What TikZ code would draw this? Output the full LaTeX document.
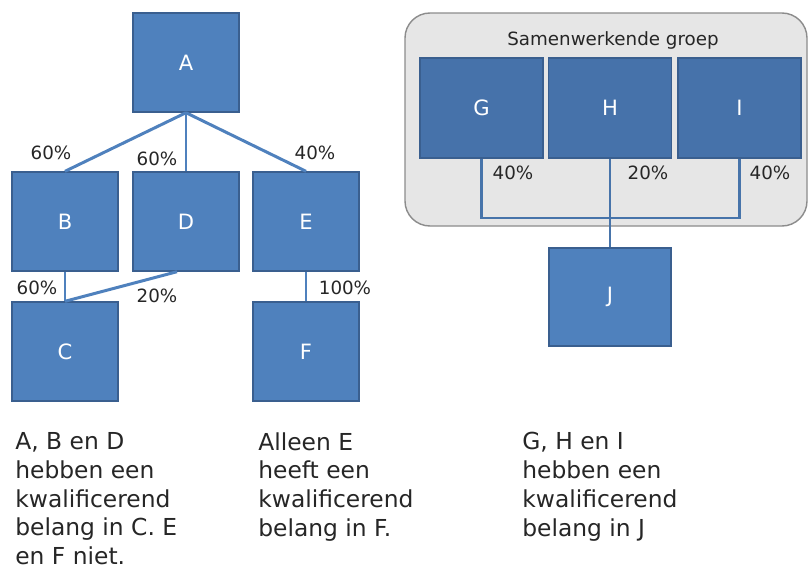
\documentclass[tikz,border=0pt]{standalone}
\usepackage{fontspec}
\setmainfont{DejaVu Sans}
\usepackage{xcolor}
\usepackage{tikz}
\definecolor{boxblue}{HTML}{4F81BD}
\definecolor{boxdark}{HTML}{4672AA}
\definecolor{boxline}{HTML}{3A5F8F}
\definecolor{groupfill}{HTML}{E6E6E6}
\definecolor{groupline}{HTML}{8C8C8C}
\definecolor{txt}{HTML}{262626}
\newcommand{\boxfont}{\fontsize{12}{14}\selectfont}
\newcommand{\pctfont}{\fontsize{10.4}{12}\selectfont}
\newcommand{\notefont}{\fontsize{13.3}{16.4}\selectfont}

\tikzset{
  ent/.style={draw=boxline, fill=boxblue, minimum width=2.12cm, minimum height=1.98cm,
    text=white, font=\boxfont, inner sep=0pt, line width=0.8pt},
  entgrp/.style={ent, fill=boxdark, minimum width=2.46cm, minimum height=2cm},
  link/.style={draw=boxblue, line width=1.7pt},
  linkgrp/.style={draw=boxblue!90!black, line width=1.3pt},
  pct/.style={text=txt, font=\pctfont, inner sep=0pt},
  note/.style={text=txt, font=\notefont, align=left, anchor=north west, inner sep=0pt}
}

\begin{document}
\begin{tikzpicture}
\fill[white] (0,0) rectangle (16.16,-11.4);
\useasboundingbox (0,0) rectangle (16.16,-11.4);

%% left tree
\node[ent] (A) at (3.72,-1.25) {A};
\node[ent] (B) at (1.30,-4.43) {B};
\node[ent] (D) at (3.72,-4.43) {D};
\node[ent] (E) at (6.12,-4.43) {E};
\node[ent] (C) at (1.30,-7.03) {C};
\node[ent] (F) at (6.12,-7.03) {F};
%%
\draw[link] (A.south) -- (B.north);
\draw[link] (A.south) -- (D.north);
\draw[link] (A.south) -- (E.north);
\draw[link] (B.south) -- (C.north);
\draw[link] ([xshift=-0.18cm]D.south) -- (C.north);
\draw[link] (E.south) -- (F.north);
%%
\node[pct] (pAB) at (1.02,-3.06) {60\%};
\node[pct] (pAD) at (3.14,-3.18) {60\%};
\node[pct] (pAE) at (6.30,-3.06) {40\%};
\node[pct] (pBC) at (0.74,-5.76) {60\%};
\node[pct] (pDC) at (3.14,-5.92) {20\%};
\node[pct] (pEF) at (6.90,-5.76) {100\%};

%% samenwerkende groep
\draw[fill=groupfill, draw=groupline, line width=0.8pt, rounded corners=0.5cm]
  (8.10,-0.26) rectangle (16.14,-4.52);
\node[text=txt, font=\pctfont] (title) at (12.26,-0.80) {Samenwerkende groep};
\node[entgrp] (G) at (9.63,-2.16) {G};
\node[entgrp] (H) at (12.20,-2.16) {H};
\node[entgrp] (I) at (14.79,-2.16) {I};
\node[ent, minimum width=2.44cm, minimum height=1.96cm] (J) at (12.20,-5.94) {J};
%%
\coordinate (gi) at (12.20,-4.36);
\draw[linkgrp] (G.south) |- (gi) -| (I.south);
\draw[linkgrp] (H.south) -- (J.north);
%%
\node[pct] (pG) at (10.26,-3.46) {40\%};
\node[pct] (pH) at (12.96,-3.46) {20\%};
\node[pct] (pI) at (15.40,-3.46) {40\%};

%% toelichting
\node[note] (n1) at (0.30,-8.64) {A, B en D\\hebben een\\kwalificerend\\belang in C. E\\en F niet.};
\node[note] (n2) at (5.16,-8.64) {Alleen E\\heeft een\\kwalificerend\\belang in F.};
\node[note] (n3) at (10.44,-8.64) {G, H en I\\hebben een\\kwalificerend\\belang in J};
\end{tikzpicture}
\end{document}
